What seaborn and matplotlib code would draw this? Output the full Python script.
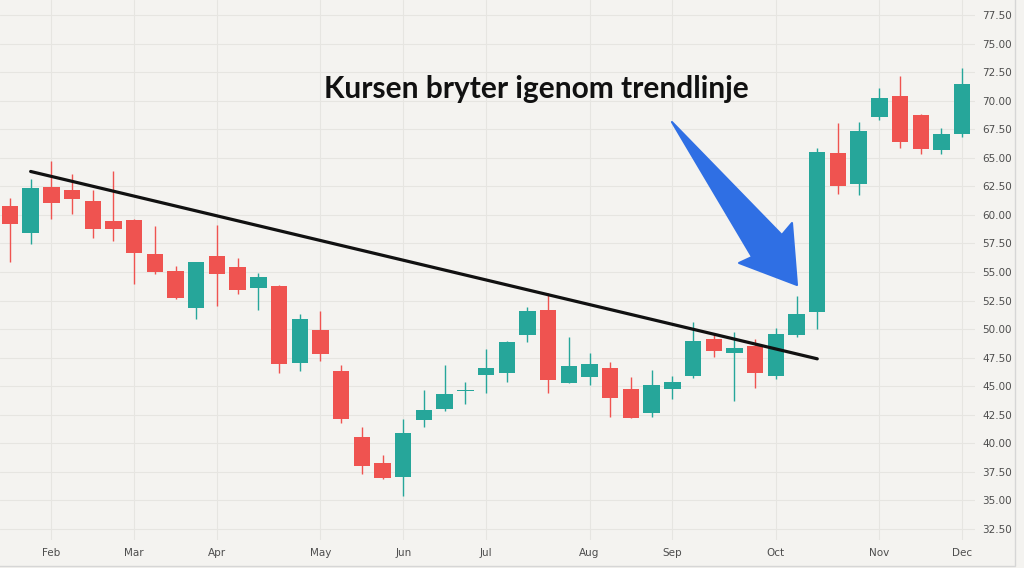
import matplotlib
matplotlib.use("Agg")
import matplotlib.pyplot as plt
from matplotlib.patches import Polygon, Rectangle
import seaborn as sns
import numpy as np
import pandas as pd

# ---- data (weekly candles) ----
opens = [60.81, 58.42, 62.47, 62.18, 61.19, 59.44, 59.55, 56.60, 55.09, 51.85,
         56.38, 55.47, 53.60, 53.75, 47.06, 49.90, 46.34, 40.53, 38.26, 37.06,
         42.02, 43.01, 44.58, 45.96, 46.13, 49.49, 51.65, 45.31, 45.84, 46.57,
         44.79, 42.63, 44.76, 45.90, 49.11, 47.89, 48.52, 45.90, 49.49, 51.53,
         65.39, 62.73, 68.60, 70.41, 68.75, 65.71, 67.08]
highs = [61.48, 63.12, 64.72, 63.55, 62.18, 63.87, 59.64, 59.00, 55.55, 55.90,
         59.14, 56.20, 54.94, 53.86, 51.30, 51.59, 46.86, 41.46, 39.01, 42.13,
         44.67, 46.86, 45.40, 48.26, 49.00, 51.91, 53.14, 49.29, 47.89, 47.15,
         45.78, 46.42, 45.92, 50.60, 49.64, 49.72, 49.11, 50.13, 52.90, 65.83,
         68.02, 68.13, 71.11, 72.16, 68.80, 67.58, 72.86]
lows = [55.88, 57.48, 59.62, 60.05, 58.00, 57.74, 53.95, 54.83, 52.61, 50.86,
        52.05, 53.08, 51.68, 46.19, 46.31, 47.18, 41.81, 37.29, 36.85, 35.42,
        41.46, 42.86, 43.45, 44.44, 45.40, 48.90, 44.44, 45.26, 45.14, 42.34,
        42.20, 42.34, 43.86, 45.70, 47.59, 43.71, 44.82, 45.66, 49.34, 49.99,
        61.83, 61.74, 68.31, 65.83, 65.33, 65.33, 66.85]
closes = [59.23, 62.33, 61.02, 61.39, 58.79, 58.79, 56.67, 54.98, 52.75, 55.85,
          54.83, 53.45, 54.56, 46.97, 50.89, 47.82, 42.16, 38.05, 36.97, 40.91,
          42.95, 44.32, 44.70, 46.57, 48.90, 51.59, 45.52, 46.75, 46.92, 43.95,
          42.25, 45.08, 45.40, 48.99, 48.06, 48.35, 46.19, 49.55, 51.30, 65.48,
          62.53, 67.32, 70.26, 66.41, 65.77, 67.08, 71.49]

month_labels = ["Feb", "Mar", "Apr", "May", "Jun", "Jul", "Aug", "Sep", "Oct", "Nov", "Dec"]
month_first_week = [2, 6, 10, 15, 19, 23, 28, 32, 37, 42, 46]

price_ticks = [32.5, 35.0, 37.5, 40.0, 42.5, 45.0, 47.5, 50.0, 52.5, 55.0, 57.5,
               60.0, 62.5, 65.0, 67.5, 70.0, 72.5, 75.0, 77.5]

trend_x = [1, 39]
trend_y = [63.8, 47.4]

title_text = "Kursen bryter igenom trendlinje"

# ---- styling ----
BG = "#f4f3f0"
GRID = "#e6e5e1"
UP = "#26a69a"
DOWN = "#ef5350"
ARROW = "#2f6fe4"

sns.set_theme(style="white")
plt.rcParams["font.family"] = ["DejaVu Sans"]

df = pd.DataFrame({"open": opens, "high": highs, "low": lows, "close": closes})
df["week"] = np.arange(len(df))
df["up"] = df["close"] >= df["open"]
df["bottom"] = df[["open", "close"]].min(axis=1)
df["height"] = (df["close"] - df["open"]).abs().clip(lower=0.12)
df["color"] = np.where(df["up"], UP, DOWN)

fig = plt.figure(figsize=(10.24, 5.68), dpi=100, facecolor=BG)
ax = fig.add_axes([0.0, 28 / 568, 975 / 1024, 540 / 568])
ax.set_facecolor(BG)

# wicks
ax.vlines(df["week"], df["low"], df["high"], colors=df["color"], linewidth=1.0, zorder=3)
# bodies
ax.bar(df["week"], df["height"], bottom=df["bottom"], width=0.79,
       color=df["color"], edgecolor="none", zorder=4)

# trend line
sns.lineplot(x=trend_x, y=trend_y, ax=ax, color="#111111", linewidth=2.3, zorder=5)

# axes limits / ticks
ax.set_xlim(-0.48, 46.62)
ax.set_ylim(31.54, 78.81)
ax.set_xticks(month_first_week)
ax.set_xticklabels(month_labels)
ax.set_yticks(price_ticks)
ax.set_yticklabels([f"{v:.2f}" for v in price_ticks])
ax.yaxis.tick_right()
ax.tick_params(axis="both", length=0, labelsize=7.5, colors="#4d4d4d")
ax.tick_params(axis="x", pad=6)
ax.tick_params(axis="y", pad=5)
ax.grid(True, color=GRID, linewidth=0.8, zorder=0)
ax.set_axisbelow(True)
for s in ax.spines.values():
    s.set_visible(False)
ax.set_xlabel("")
ax.set_ylabel("")

# annotation arrow (tapered)
arrow_pts = [(31.98, 68.13), (37.29, 58.24), (37.78, 59.29), (38.02, 53.86),
             (35.22, 55.79), (35.85, 56.32)]
ax.add_patch(Polygon(arrow_pts, closed=True, facecolor=ARROW, edgecolor=ARROW,
                     linewidth=1.5, joinstyle="round", zorder=6))

# annotation text
fig.text(536 / 1024, 1 - 98 / 568, title_text, ha="center", va="baseline",
         fontsize=21.5, fontweight="bold", family=["Lato", "DejaVu Sans"], color="#111111")

# outer panel frame
fig.add_artist(Rectangle((-0.01, 2 / 568), 1015 / 1024 + 0.01, 1.1, fill=False,
                         edgecolor="#d6d6d6", linewidth=1.0, transform=fig.transFigure))

fig.savefig("out.png", dpi=100, facecolor=BG)
